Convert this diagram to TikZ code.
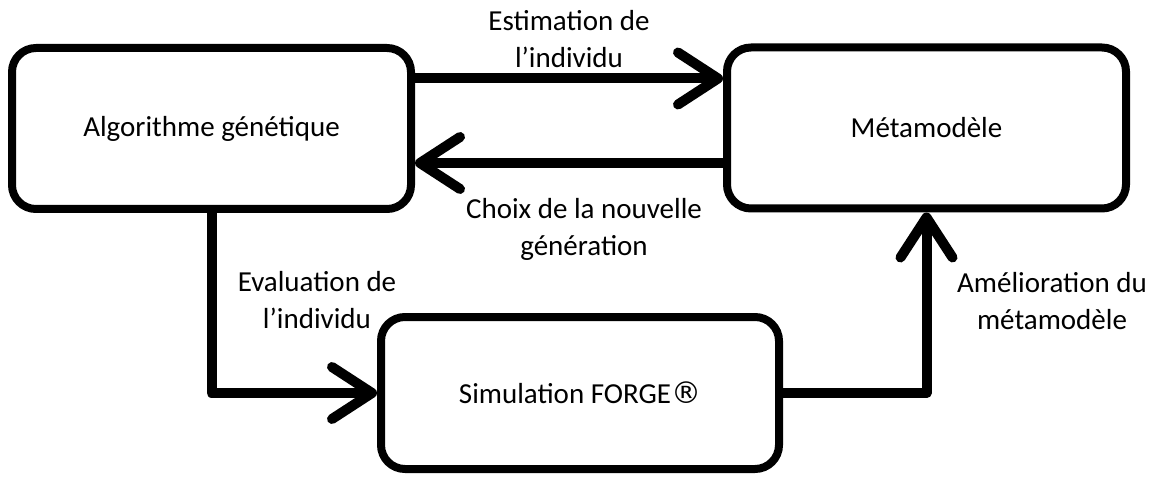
\documentclass[tikz,border=0pt]{standalone}
\usepackage{fontspec}
\setmainfont{Carlito}
\newfontfamily\symfont{DejaVu Sans}
\usetikzlibrary{arrows.meta}
\tikzset{
  box/.style={draw=black, line width=8pt, rounded corners=24pt, fill=white,
    rectangle, inner sep=0pt, font=\fontsize{29}{37}\selectfont},
  conn/.style={line width=10pt, draw=black},
  arr/.style={conn, -{Straight Barb[length=40pt, width=52pt, round, line width=10pt]}},
  lbl/.style={align=center, inner sep=0pt, font=\fontsize{29}{37}\selectfont}
}
\begin{document}
\begin{tikzpicture}[x=1pt, y=-1pt]
\useasboundingbox (0,0) rectangle (1156,481);
\node[box, minimum width=399pt, minimum height=161pt] (alg) at (211.5,128.5) {Algorithme génétique};
\node[box, minimum width=399pt, minimum height=161pt] (meta) at (926.5,128) {Métamodèle};
\node[box, minimum width=398pt, minimum height=152pt] (sim) at (580,393) {Simulation FORGE{\symfont\fontsize{30}{37}\selectfont ®}};

\draw[arr] ([yshift=50pt]alg.east) -- ([yshift=50pt]alg.east -| meta.west);
\draw[arr] ([yshift=-35pt]meta.west) -- ([yshift=-35pt]meta.west -| alg.east);
\draw[arr, line join=round] (alg.south) |- (sim.west);
\draw[arr, line join=round] (sim.east) -| (meta.south);

\node[lbl] (l1) at (569,39) {Estimation de\\l’individu};
\node[lbl] (l2) at (584,229) {Choix de la nouvelle\\génération};
\node[lbl] (l3) at (317,300) {Evaluation de\\l’individu};
\node[lbl] (l4) at (1052,301) {Amélioration du\\métamodèle};
\end{tikzpicture}
\end{document}
